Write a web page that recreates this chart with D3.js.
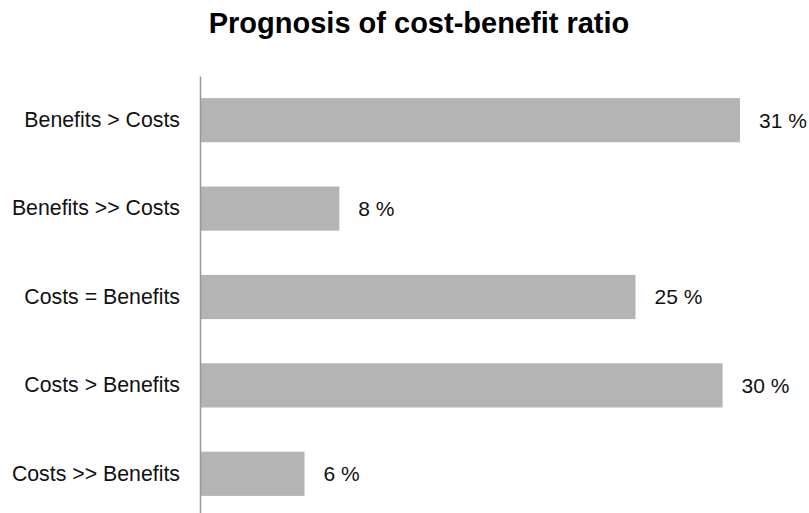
<!DOCTYPE html>
<html>
<head>
<meta charset="utf-8">
<script src="https://cdn.jsdelivr.net/npm/d3@7"></script>
<style>
  body { margin: 0; background: #fff; }
  text { font-family: "Liberation Sans", Arial, sans-serif; }
</style>
</head>
<body>
<svg id="chart"></svg>
<script>
const categories = ['Benefits > Costs', 'Benefits >> Costs', 'Costs = Benefits', 'Costs > Benefits', 'Costs >> Benefits']
const shares = [31, 8, 25, 30, 6]
const title = 'Prognosis of cost-benefit ratio'

const width = 809
const height = 513
const margin = {top: 76, left: 200}

const data = categories.map((c, i) => ({category: c, value: shares[i]}))

// set up svg container
const svg = d3.select('#chart')
    .attr('width', width)
    .attr('height', height)

// set up scales
const xScale = d3.scaleLinear()
    .domain([0, 31])
    .range([margin.left, 740])
const yScale = d3.scaleBand()
    .domain(categories)
    .range([margin.top, margin.top + 5 * 88.4])
    .paddingInner(0.5)
    .paddingOuter(0.25)

// title
svg.append('text')
    .attr('x', 419)
    .attr('y', 33)
    .attr('text-anchor', 'middle')
    .style('font-size', '29px')
    .style('font-weight', 'bold')
    .text(title)

// bars
svg.selectAll('.bar')
    .data(data)
    .enter()
    .append('rect')
        .attr('class', 'bar')
        .attr('x', xScale(0))
        .attr('y', d => yScale(d.category))
        .attr('width', d => xScale(d.value) - xScale(0))
        .attr('height', yScale.bandwidth())
        .style('fill', '#b4b4b4')

// value labels
svg.selectAll('.value')
    .data(data)
    .enter()
    .append('text')
        .attr('class', 'value')
        .attr('x', d => xScale(d.value) + 19)
        .attr('y', d => yScale(d.category) + yScale.bandwidth() / 2)
        .attr('dy', '0.35em')
        .style('font-size', '21px')
        .style('fill', '#111')
        .text(d => d.value + ' %')

// y axis, no ticks, just the line and labels
const yAxis = d3.axisLeft(yScale)
    .tickSize(0)
    .tickPadding(20)
svg.append('g')
    .attr('transform', `translate(${xScale(0)}, 0)`)
    .call(yAxis)
    .call(g => g.select('.domain').attr('stroke', '#999').attr('stroke-width', 1.5))
    .call(g => g.selectAll('text')
        .style('font-size', '21.3px')
        .style('font-family', '"Liberation Sans", Arial, sans-serif')
        .style('fill', '#111'))
</script>
</body>
</html>
